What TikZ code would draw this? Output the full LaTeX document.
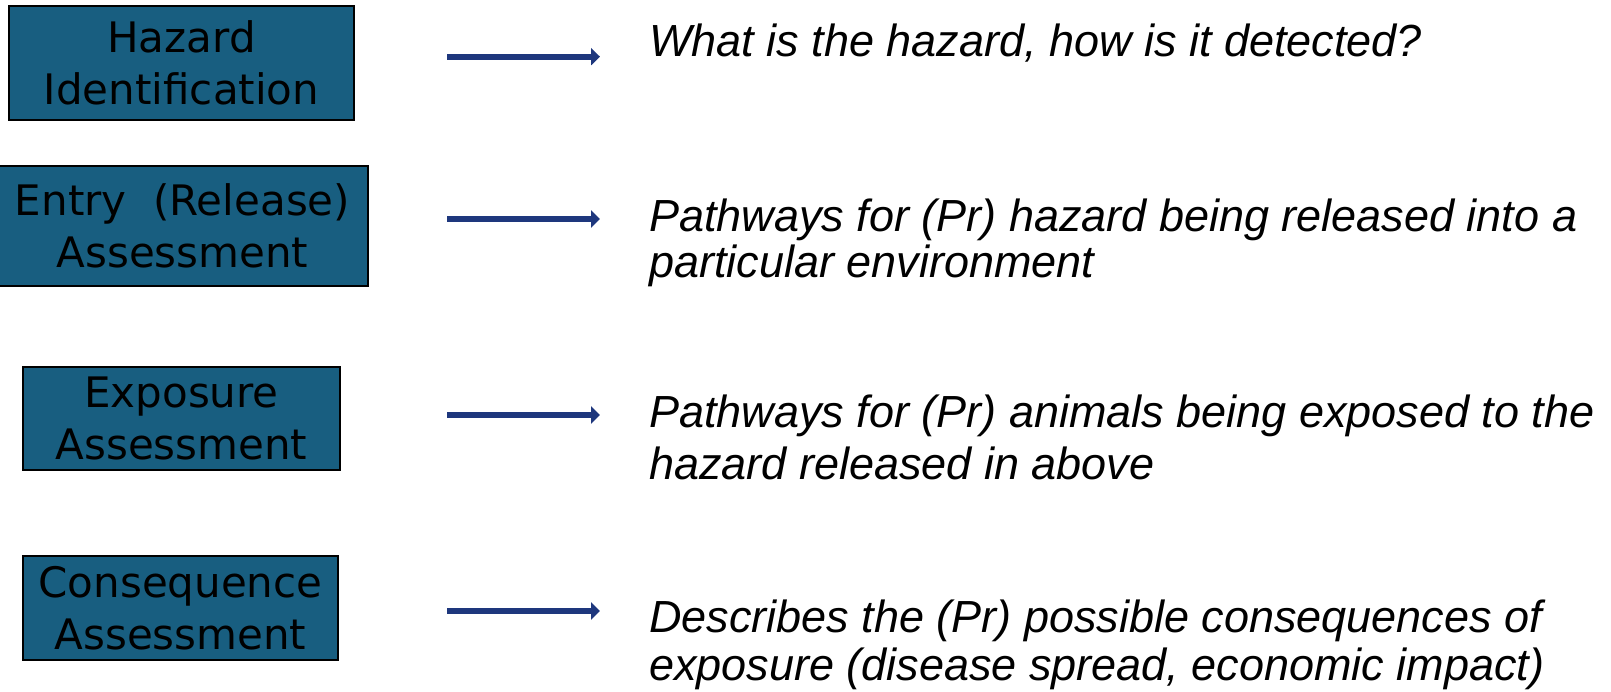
\documentclass[tikz,border=0pt]{standalone}
\usepackage{fontspec}
\setmainfont{Liberation Sans}
\newfontfamily\boxfont{DejaVu Sans}
\usetikzlibrary{arrows.meta}
\definecolor{boxblue}{RGB}{24,94,128}
\definecolor{arrowblue}{RGB}{30,55,125}

\begin{document}
\begin{tikzpicture}[x=1pt,y=-1pt,
  stagebox/.style={draw=black, line width=2.5pt, fill=boxblue, align=center,
    inner sep=0pt, font=\boxfont\fontsize{42}{52}\selectfont},
  desc/.style={anchor=base west, inner sep=0pt, align=left,
    font=\itshape\fontsize{45}{46}\selectfont},
  flow/.style={draw=arrowblue, line width=6pt,
    -{Triangle[length=9pt,width=17pt]}}]
\useasboundingbox (0,0) rectangle (1611,691);

% assessment stages
\node[stagebox, minimum width=345pt, minimum height=114pt] (hazard) at (181.5,63)
  {Hazard\\Identification};
\node[stagebox, minimum width=371pt, minimum height=120pt] (entry) at (182.5,226)
  {Entry~~(Release)\\Assessment};
\node[stagebox, minimum width=317pt, minimum height=103pt] (exposure) at (181.5,418.5)
  {Exposure\\Assessment};
\node[stagebox, minimum width=315pt, minimum height=104pt] (conseq) at (180.5,608)
  {Consequence\\Assessment};

% descriptions (placed by the baseline of their last line)
\node[desc] (dhazard) at (649,56.7) {What is the hazard, how is it detected?};
\node[desc] (dentry) at (649,277) {Pathways for (Pr) hazard being released into a\\particular environment};
\node[desc, font=\itshape\fontsize{45}{52}\selectfont] (dexposure) at (649,479.5)
  {Pathways for (Pr) animals being exposed to the\\hazard released in above};
\node[desc, font=\itshape\fontsize{45}{47.5}\selectfont] (dconseq) at (649,680)
  {Describes the (Pr) possible consequences of\\exposure (disease spread, economic impact)};

% arrows between stage and description
\coordinate (a1s) at (447,56.7);  \coordinate (a1e) at (600,56.7);
\coordinate (a2s) at (447,219);   \coordinate (a2e) at (600,219);
\coordinate (a3s) at (447,415);   \coordinate (a3e) at (600,415);
\coordinate (a4s) at (447,611);   \coordinate (a4e) at (600,611);
\draw[flow] (a1s) -- (a1e);
\draw[flow] (a2s) -- (a2e);
\draw[flow] (a3s) -- (a3e);
\draw[flow] (a4s) -- (a4e);
\end{tikzpicture}
\end{document}
